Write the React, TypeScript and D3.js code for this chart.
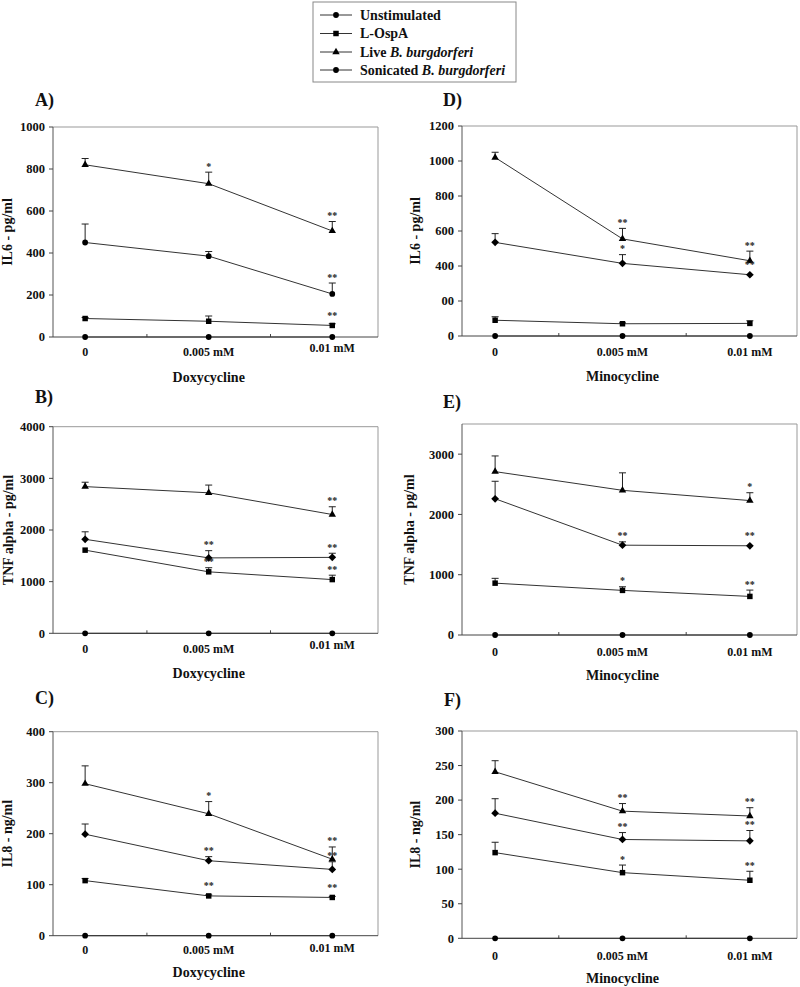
import React from "react";
import * as d3 from "d3";

// ---------- data ----------
const DOSES = ["0", "0.005 mM", "0.01 mM"];
const SERIES = ["Unstimulated", "L-OspA", "Live B. burgdorferi", "Sonicated B. burgdorferi"];

// rows: Unstimulated, L-OspA, Live, Sonicated
const A_VALUES = [[0, 0, 0], [88, 75, 55], [820, 730, 505], [450, 385, 205]];
const A_ERRORS = [[0, 0, 0], [5, 25, 8], [30, 55, 45], [88, 22, 52]];
const A_SIG = [["", "", ""], ["", "", "**"], ["", "*", "**"], ["", "", "**"]];
const A_TICKS = [0, 200, 400, 600, 800, 1000];
const A_TICK_LABELS = ["0", "200", "400", "600", "800", "1000"];

const B_VALUES = [[0, 0, 0], [1610, 1190, 1040], [2840, 2720, 2300], [1820, 1460, 1470]];
const B_ERRORS = [[0, 0, 0], [0, 80, 85], [85, 150, 150], [145, 140, 80]];
const B_SIG = [["", "", ""], ["", "**", "**"], ["", "", "**"], ["", "**", "**"]];
const B_TICKS = [0, 1000, 2000, 3000, 4000];
const B_TICK_LABELS = ["0", "1000", "2000", "3000", "4000"];

const C_VALUES = [[0, 0, 0], [108, 78, 75], [298, 239, 150], [199, 147, 130]];
const C_ERRORS = [[0, 0, 0], [4, 2, 2], [35, 24, 24], [20, 8, 15]];
const C_SIG = [["", "", ""], ["", "**", "**"], ["", "*", "**"], ["", "**", "**"]];
const C_TICKS = [0, 100, 200, 300, 400];
const C_TICK_LABELS = ["0", "100", "200", "300", "400"];

const D_VALUES = [[0, 0, 0], [90, 70, 72], [1020, 555, 430], [535, 415, 350]];
const D_ERRORS = [[0, 0, 0], [20, 5, 15], [30, 60, 55], [50, 50, 0]];
const D_SIG = [["", "", ""], ["", "", ""], ["", "**", "**"], ["", "*", "**"]];
const D_TICKS = [0, 200, 400, 600, 800, 1000, 1200];
const D_TICK_LABELS = ["0", "00", "400", "600", "800", "1000", "1200"];

const E_VALUES = [[0, 0, 0], [860, 740, 640], [2710, 2400, 2230], [2260, 1490, 1480]];
const E_ERRORS = [[0, 0, 0], [80, 60, 105], [260, 290, 130], [290, 55, 0]];
const E_SIG = [["", "", ""], ["", "*", "**"], ["", "", "*"], ["", "**", "**"]];
const E_TICKS = [0, 1000, 2000, 3000];
const E_TICK_LABELS = ["0", "1000", "2000", "3000"];

const F_VALUES = [[0, 0, 0], [124, 95, 84], [241, 184, 177], [181, 143, 141]];
const F_ERRORS = [[0, 0, 0], [15, 11, 13], [16, 11, 12], [21, 10, 15]];
const F_SIG = [["", "", ""], ["", "*", "**"], ["", "**", "**"], ["", "**", "**"]];
const F_TICKS = [0, 50, 100, 150, 200, 250, 300];
const F_TICK_LABELS = ["0", "50", "100", "150", "200", "250", "300"];

// ---------- layout ----------
const FONT = "'Liberation Serif', 'Times New Roman', serif";

const PANELS = [
  { id: "A)", values: A_VALUES, errors: A_ERRORS, sig: A_SIG, ticks: A_TICKS, tickLabels: A_TICK_LABELS, max: 1000,
    x0: 53, x1: 378, y0: 127, y1: 337, ylabel: "IL6 - pg/ml", drug: "Doxycycline",
    labX: 35, labY: 106, ylabX: 12, xlabDy: [15, 15, 11], drugDy: 40, sonicShape: "circle" },
  { id: "B)", values: B_VALUES, errors: B_ERRORS, sig: B_SIG, ticks: B_TICKS, tickLabels: B_TICK_LABELS, max: 4000,
    x0: 53, x1: 378, y0: 426.7, y1: 633.3, ylabel: "TNF alpha - pg/ml", drug: "Doxycycline",
    labX: 35, labY: 403, ylabX: 12.5, xlabDy: [15, 15, 11], drugDy: 39.5, sonicShape: "diamond" },
  { id: "C)", values: C_VALUES, errors: C_ERRORS, sig: C_SIG, ticks: C_TICKS, tickLabels: C_TICK_LABELS, max: 400,
    x0: 53, x1: 378, y0: 731.7, y1: 935.7, ylabel: "IL8 - ng/ml", drug: "Doxycycline",
    labX: 35, labY: 704, ylabX: 12, xlabDy: [14.5, 14.5, 12.5], drugDy: 36, sonicShape: "diamond" },
  { id: "D)", values: D_VALUES, errors: D_ERRORS, sig: D_SIG, ticks: D_TICKS, tickLabels: D_TICK_LABELS, max: 1200,
    x0: 462, x1: 797, y0: 126, y1: 336, ylabel: "IL6 - pg/ml", drug: "Minocycline",
    labX: 443, labY: 106, ylabX: 419.5, xlabDy: [16, 16, 16], drugDy: 40.5, sonicShape: "diamond" },
  { id: "E)", values: E_VALUES, errors: E_ERRORS, sig: E_SIG, ticks: E_TICKS, tickLabels: E_TICK_LABELS, max: 3500,
    x0: 462, x1: 797, y0: 424, y1: 635, ylabel: "TNF alpha - pg/ml", drug: "Minocycline",
    labX: 443, labY: 408, ylabX: 414, xlabDy: [17, 17, 17], drugDy: 40, sonicShape: "diamond" },
  { id: "F)", values: F_VALUES, errors: F_ERRORS, sig: F_SIG, ticks: F_TICKS, tickLabels: F_TICK_LABELS, max: 300,
    x0: 462, x1: 797, y0: 731, y1: 938.3, ylabel: "IL8 - ng/ml", drug: "Minocycline",
    labX: 444, labY: 706, ylabX: 419.5, xlabDy: [17, 17, 17], drugDy: 40, sonicShape: "diamond" },
];

const SHAPES: Record<string, any> = {
  circle: { type: d3.symbolCircle, size: 26, rot: 0 },
  square: { type: d3.symbolSquare, size: 30, rot: 0 },
  triangle: { type: d3.symbolTriangle, size: 24, rot: 0 },
  diamond: { type: d3.symbolSquare, size: 30, rot: 45 },
};

function shapeFor(series: number, sonic: string) {
  if (series === 0) return SHAPES.circle;
  if (series === 1) return SHAPES.square;
  if (series === 2) return SHAPES.triangle;
  return SHAPES[sonic];
}

function Panel({ p }: { p: any }) {
  const x = d3.scaleLinear().domain([-0.26, 2.37]).range([p.x0, p.x1]);
  const y = d3.scaleLinear().domain([0, p.max]).range([p.y1, p.y0]);
  const line = d3.line<number>().x((_, i) => x(i)).y((d) => y(d));
  const ink = "#222";
  const midTicks = [0.5, 1.5];
  return (
    <g>
      {/* frame */}
      <line x1={p.x0} x2={p.x1} y1={p.y0} y2={p.y0} stroke="#999" strokeWidth={1} />
      <line x1={p.x1} x2={p.x1} y1={p.y0} y2={p.y1} stroke="#999" strokeWidth={1} />
      <line x1={p.x0} x2={p.x0} y1={p.y0} y2={p.y1} stroke="#555" strokeWidth={1} />
      <line x1={p.x0} x2={p.x1} y1={p.y1} y2={p.y1} stroke="#444" strokeWidth={1} />
      {/* y ticks */}
      {p.ticks.map((t: number, i: number) => (
        <g key={"yt" + i}>
          <line x1={p.x0 - 4} x2={p.x0} y1={y(t)} y2={y(t)} stroke="#444" />
          <text x={p.x0 - 8} y={y(t)} dy="0.35em" textAnchor="end" fontFamily={FONT} fontWeight="bold" fontSize={12.5} fill="#111">
            {p.tickLabels[i]}
          </text>
        </g>
      ))}
      {/* x minor ticks */}
      {midTicks.map((t) => (
        <line key={"xt" + t} x1={x(t)} x2={x(t)} y1={p.y1} y2={p.y1 - 3} stroke="#444" />
      ))}
      {/* x labels */}
      {DOSES.map((d, i) => (
        <text key={"xl" + i} x={x(i)} y={p.y1 + p.xlabDy[i]} dy="0.35em" textAnchor="middle" fontFamily={FONT} fontWeight="bold" fontSize={12} fill="#111">
          {d}
        </text>
      ))}
      <text x={(x(0) + x(2)) / 2} y={p.y1 + p.drugDy} dy="0.35em" textAnchor="middle" fontFamily={FONT} fontWeight="bold" fontSize={14} fill="#111">
        {p.drug}
      </text>
      <text transform={`translate(${p.ylabX},${(p.y0 + p.y1) / 2}) rotate(-90)`} textAnchor="middle" fontFamily={FONT} fontWeight="bold" fontSize={14} fill="#111">
        {p.ylabel}
      </text>
      <text x={p.labX} y={p.labY} fontFamily={FONT} fontWeight="bold" fontSize={18} fill="#111">
        {p.id}
      </text>
      {/* lines */}
      {p.values.map((vals: number[], s: number) => (
        <path key={"l" + s} d={line(vals) || ""} fill="none" stroke="#333" strokeWidth={1} />
      ))}
      {/* error bars */}
      {p.values.map((vals: number[], s: number) =>
        vals.map((v, i) => {
          const e = p.errors[s][i];
          if (!e) return null;
          return (
            <g key={`e${s}-${i}`} stroke={ink} strokeWidth={1}>
              <line x1={x(i)} x2={x(i)} y1={y(v)} y2={y(v + e)} />
              <line x1={x(i) - 3.5} x2={x(i) + 3.5} y1={y(v + e)} y2={y(v + e)} />
            </g>
          );
        })
      )}
      {/* markers */}
      {p.values.map((vals: number[], s: number) =>
        vals.map((v, i) => {
          const sh = shapeFor(s, p.sonicShape);
          const path = d3.symbol().type(sh.type).size(sh.size)() || "";
          return <path key={`m${s}-${i}`} d={path} transform={`translate(${x(i)},${y(v)}) rotate(${sh.rot})`} fill="#000" />;
        })
      )}
      {/* significance */}
      {p.values.map((vals: number[], s: number) =>
        vals.map((v, i) => {
          const sig = p.sig[s][i];
          if (!sig) return null;
          const top = Math.min(y(v + p.errors[s][i]), y(v) - 4);
          return (
            <text key={`s${s}-${i}`} x={x(i)} y={top - 2.5} textAnchor="middle" fontFamily={FONT} fontWeight="bold" fontSize={10} fill="#222">
              {sig}
            </text>
          );
        })
      )}
    </g>
  );
}

function Legend() {
  const rows = [15, 33.5, 52, 70];
  return (
    <g>
      <rect x={313} y={2} width={203} height={80} fill="#fff" stroke="#888" strokeWidth={1} />
      {SERIES.map((name, i) => {
        const sh = i === 3 ? SHAPES.circle : shapeFor(i, "circle");
        const path = d3.symbol().type(sh.type).size(sh.size)() || "";
        const italicIdx = name.indexOf("B. burgdorferi");
        return (
          <g key={name}>
            <line x1={320} x2={352} y1={rows[i]} y2={rows[i]} stroke="#333" strokeWidth={1} />
            <path d={path} transform={`translate(336,${rows[i]})`} fill="#000" />
            <text x={360} y={rows[i]} dy="0.35em" fontFamily={FONT} fontWeight="bold" fontSize={14} fill="#111">
              {italicIdx >= 0 ? (
                <>
                  {name.slice(0, italicIdx)}
                  <tspan fontStyle="italic">{name.slice(italicIdx)}</tspan>
                </>
              ) : (
                name
              )}
            </text>
          </g>
        );
      })}
    </g>
  );
}

export default function App() {
  return (
    <svg width={800} height={987} style={{ position: "absolute", left: 0, top: 0, background: "#fff" }}>
      <rect x={0} y={0} width={800} height={987} fill="#fff" />
      <Legend />
      {PANELS.map((p) => (
        <Panel key={p.id} p={p} />
      ))}
    </svg>
  );
}
